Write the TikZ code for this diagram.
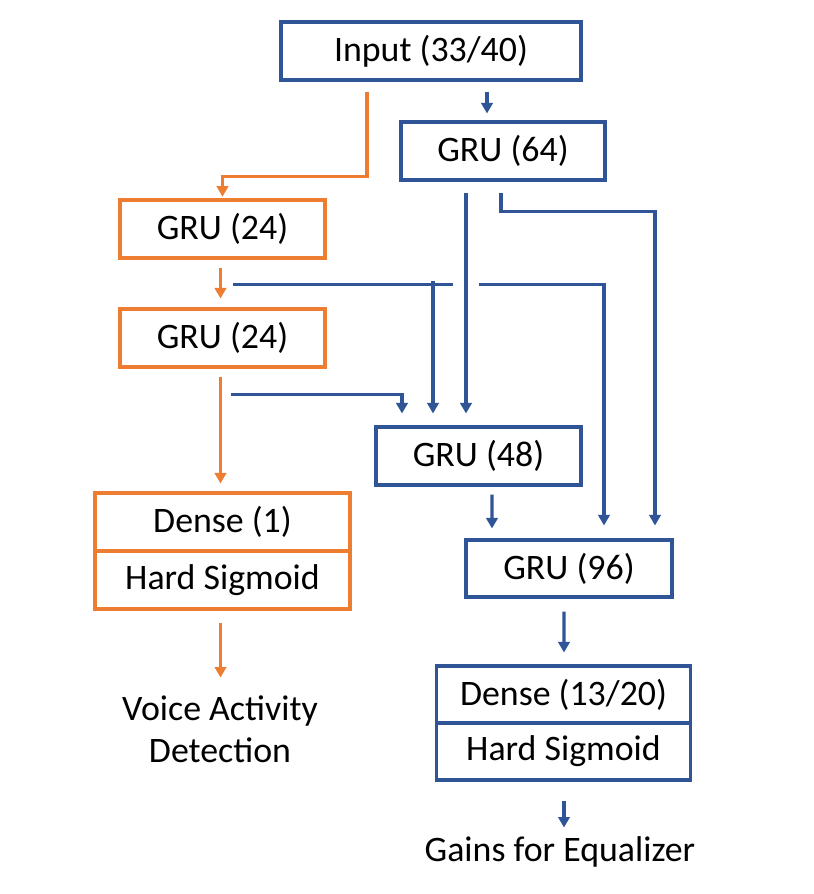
\documentclass[tikz,border=0pt]{standalone}
\usepackage{fontspec}
\setmainfont{Carlito}
\usetikzlibrary{calc,arrows.meta}
\definecolor{netblue}{RGB}{47,85,151}
\definecolor{netorange}{RGB}{237,125,49}

\begin{document}
\begin{tikzpicture}[x=0.02cm, y=-0.02cm,
	box/.style={draw, line width=1.75pt, inner sep=0pt, text=black, font=\fontsize{20.4}{24}\selectfont},
	bluebox/.style={box, draw=netblue},
	orbox/.style={box, draw=netorange},
	lbl/.style={inner sep=0pt, align=center, font=\fontsize{20.4}{23.8}\selectfont},
	arr/.style={line width=1.75pt, -{Triangle[width=6.5pt,length=6pt]}},
	bluearr/.style={arr, netblue},
	orarr/.style={arr, netorange},
	blueline/.style={line width=1.75pt, netblue}]
	\useasboundingbox (0,0) rectangle (814,894);

	% boxes
	\node[bluebox, minimum width=6cm, minimum height=1.16cm] (inp) at (431,51) {Input (33/40)};
	\node[bluebox, minimum width=4.08cm, minimum height=1.16cm] (gru64) at (503,151) {GRU (64)};
	\node[orbox, minimum width=4.1cm, minimum height=1.16cm] (gru24a) at (222.5,229) {GRU (24)};
	\node[orbox, minimum width=4.1cm, minimum height=1.16cm] (gru24b) at (222.5,338) {GRU (24)};
	\node[bluebox, minimum width=4.1cm, minimum height=1.16cm] (gru48) at (478.5,456) {GRU (48)};
	\node[bluebox, minimum width=4.12cm, minimum height=1.14cm] (gru96) at (569,568.5) {GRU (96)};
	\node[orbox, minimum width=5.1cm, minimum height=1.16cm] (dense1) at (222.5,522) {Dense (1)};
	\node[orbox, minimum width=5.1cm, minimum height=1.16cm] (hsig1) at (222.5,580) {Hard Sigmoid};
	\node[bluebox, minimum width=5.08cm, minimum height=1.14cm] (dense13) at (563.5,694.5) {Dense (13/20)};
	\node[bluebox, minimum width=5.08cm, minimum height=1.14cm] (hsig13) at (563.5,751.5) {Hard Sigmoid};

	% outputs
	\node[lbl] (vad) at (220,729) {Voice Activity\\Detection};
	\node[lbl] (gains) at (560,852) {Gains for Equalizer};

	% orange branch
	\draw[orarr, shorten >=1pt] ($(inp.south)+(-64,10)$) |- ($(gru24a.north)+(0,-22)$) -- (gru24a.north);
	\draw[orarr] ($(gru24a.south)+(-2,8)$) -- ($(gru24b.north)+(-2,-9)$);
	\draw[orarr] ($(gru24b.south)+(-2,8)$) -- ($(dense1.north)+(-2,-8)$);
	\draw[orarr] ($(hsig1.south)+(-2,12)$) -- ++(0,55);

	% blue branch
	\draw[bluearr] ($(inp.south)+(56,10)$) -- ($(gru64.north)+(-16,-7)$);
	\draw[bluearr] ($(gru64.south)+(-37,11)$) -- ($(gru48.north)+(-12.5,-12)$);
	\draw[bluearr] ($(gru64.south)+(-2,11)$) |- ($(gru96.north)+(86,-327)$) -- ($(gru96.north)+(86,-13)$);
	\draw[blueline] ($(gru24a.south)+(10.5,25)$) -- ($(gru24a.south)+(230.5,25)$);
	\draw[bluearr] ($(gru48.north)+(-45.5,-144)$) -- ($(gru48.north)+(-45.5,-12)$);
	\draw[bluearr] ($(gru24a.south)+(256.5,25)$) -| ($(gru96.north)+(35,-13)$);
	\draw[bluearr] ($(gru24b.south)+(8.5,26)$) -| ($(gru48.north)+(-76.5,-12)$);
	\draw[bluearr] ($(gru48.south)+(13.5,8)$) -- ($(gru96.north)+(-77,-10)$);
	\draw[bluearr] ($(gru96.south)+(-5,13)$) -- ($(dense13.north)+(0.5,-12)$);
	\draw[bluearr] ($(hsig13.south)+(0.5,19)$) -- ++(0,27);
\end{tikzpicture}
\end{document}
